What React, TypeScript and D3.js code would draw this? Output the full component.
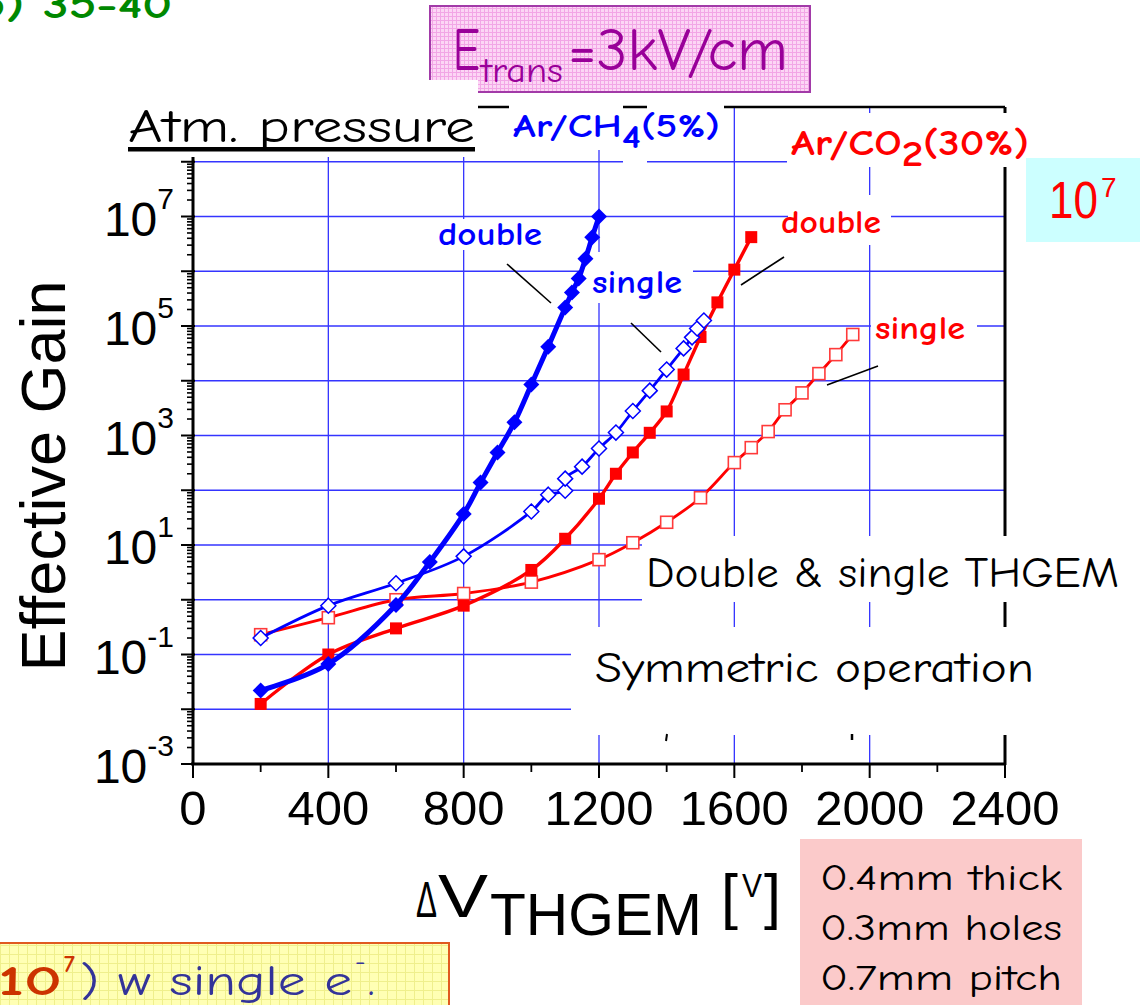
import React from 'react';
import * as d3 from 'd3';

// Applied voltage (V) and effective gain
const blueDoubleV = [200, 400, 600, 700, 800, 850, 900, 950, 1000, 1050, 1100, 1120, 1140, 1160, 1180, 1200];
const blueDoubleGain = [0.022, 0.067, 0.8, 4.9, 37, 138, 490, 1740, 8500, 42000, 218000, 410000, 740000, 1.7e6, 4.2e6, 1e7];

const blueSingleV = [200, 400, 600, 800, 1000, 1050, 1100, 1100, 1150, 1200, 1250, 1300, 1350, 1400, 1450, 1475, 1490, 1510];
const blueSingleGain = [0.2, 0.78, 2.0, 6.2, 41, 83, 98, 163, 270, 580, 1130, 2800, 6600, 16000, 39000, 62000, 90000, 126000];

const redDoubleV = [200, 400, 600, 800, 1000, 1100, 1200, 1250, 1300, 1350, 1400, 1450, 1500, 1550, 1600, 1650];
const redDoubleGain = [0.0125, 0.1, 0.3, 0.78, 3.5, 13, 70, 200, 490, 1120, 2750, 13000, 63000, 270000, 1.07e6, 4.2e6];

const redSingleV = [200, 400, 600, 800, 1000, 1200, 1300, 1400, 1500, 1600, 1650, 1700, 1750, 1800, 1850, 1900, 1950];
const redSingleGain = [0.23, 0.47, 1.0, 1.3, 2.1, 5.4, 11, 26, 73, 320, 600, 1180, 2950, 6000, 13500, 30000, 70000];

const xTickValues = [0, 400, 800, 1200, 1600, 2000, 2400];
const yLabelExponents = [-3, -1, 1, 3, 5, 7];

const COMIC = "'Comic Sans MS', 'Comic Neue', 'DejaVu Sans', sans-serif";
const ARIAL = "'Liberation Sans', Arial, Helvetica, sans-serif";
const BLUE = '#0000ff';
const RED = '#ff0000';
const GRID = '#3434ff';

type Pt = [number, number];
const zip = (v: number[], g: number[]): Pt[] => v.map((d, i) => [d, g[i]]);

export default function App() {
  const W = 1140;
  const H = 1005;

  const x = d3.scaleLinear().domain([0, 2400]).range([193, 1005]);
  const y = d3.scaleLog().domain([1e-3, 1e9]).range([764, 107]);

  const line = d3
    .line<Pt>()
    .x(d => x(d[0]))
    .y(d => y(d[1]))
    .curve(d3.curveCatmullRom.alpha(0.5));

  const redSingle = zip(redSingleV, redSingleGain);
  const redDouble = zip(redDoubleV, redDoubleGain);
  const blueSingle = zip(blueSingleV, blueSingleGain);
  const blueDouble = zip(blueDoubleV, blueDoubleGain);

  // log ticks
  const majors = d3.range(-3, 10).map(e => Math.pow(10, e));
  const minors: number[] = [];
  d3.range(-3, 9).forEach(e => {
    for (let m = 2; m <= 9; m++) minors.push(m * Math.pow(10, e));
  });
  const gridY = d3.range(-2, 9).map(e => Math.pow(10, e));
  const gridX = [400, 800, 1200, 1600, 2000];
  const xMinor = d3.range(200, 2400, 400);

  const diamond = (cx: number, cy: number, r: number) =>
    `M${cx},${cy - r}L${cx + r},${cy}L${cx},${cy + r}L${cx - r},${cy}Z`;

  // white label backgrounds that hide grid lines
  const masks: [number, number, number, number][] = [
    [120, 80, 358, 77],
    [509, 100, 114, 50],
    [623, 112, 24, 58],
    [647, 100, 77, 50],
    [787, 113, 243, 54],
    [436, 219, 108, 31],
    [583, 252, 110, 51],
    [788, 195, 103, 50],
    [871, 300, 106, 50],
    [642, 536, 498, 66],
    [571, 627, 569, 108],
  ];

  return (
    <div style={{ position: 'absolute', left: 0, top: 0, width: W, height: H, background: '#fff' }}>
      <svg width={W} height={H} style={{ display: 'block' }}>
        <defs>
          <pattern id="pinkGrid" width={4} height={4} patternUnits="userSpaceOnUse">
            <rect width={4} height={4} fill="#fcd6f5" />
            <path d="M0 0.5H4M0.5 0V4" stroke="#f2a6e6" strokeWidth={1} />
          </pattern>
          <pattern id="yellowGrid" width={9} height={9} patternUnits="userSpaceOnUse">
            <rect width={9} height={9} fill="#ffffb4" />
            <path d="M0 0.5H9M0.5 0V9" stroke="#efef8c" strokeWidth={1} />
          </pattern>
        </defs>

        {/* green heading remainder */}
        <text x={-22} y={18} fontFamily={COMIC} fontWeight="bold" fontSize={40} fill="#008800"
          textLength={194} lengthAdjust="spacingAndGlyphs">5) 35-40</text>

        {/* E_trans box */}
        <rect x={430} y={6} width={380} height={86} fill="url(#pinkGrid)" stroke="#a23aa8" strokeWidth={2} />
        <text x={453} y={70} fontFamily={COMIC} fontSize={60} fill="#990099" textLength={27} lengthAdjust="spacingAndGlyphs">E</text>
        <text x={481} y={82} fontFamily={COMIC} fontSize={34} fill="#990099" textLength={82} lengthAdjust="spacingAndGlyphs">trans</text>
        <text x={568} y={70} fontFamily={COMIC} fontSize={60} fill="#990099" textLength={220} lengthAdjust="spacingAndGlyphs">=3kV/cm</text>

        {/* grid */}
        {gridY.map(g => (
          <line key={'gy' + g} x1={193} x2={1005} y1={y(g)} y2={y(g)} stroke={GRID} strokeWidth={1.3} />
        ))}
        {gridX.map(v => (
          <line key={'gx' + v} x1={x(v)} x2={x(v)} y1={y(1e9)} y2={764} stroke={GRID} strokeWidth={1.3} />
        ))}

        {/* frame */}
        <line x1={193} x2={1005} y1={y(1e9)} y2={y(1e9)} stroke="#000" strokeWidth={2.5} />
        <line x1={1005} x2={1005} y1={y(1e9)} y2={765} stroke="#000" strokeWidth={3} />

        {/* y axis */}
        <line x1={193} x2={193} y1={y(1e9)} y2={765} stroke="#000" strokeWidth={3} />
        {majors.map(t => (
          <line key={'ym' + t} x1={181} x2={195} y1={y(t)} y2={y(t)} stroke="#000" strokeWidth={2} />
        ))}
        {minors.map(t => (
          <line key={'yn' + t} x1={187} x2={193} y1={y(t)} y2={y(t)} stroke="#000" strokeWidth={1.6} />
        ))}
        {yLabelExponents.map(e => (
          <text key={'yl' + e} x={174} y={y(Math.pow(10, e)) + 19} textAnchor="end" fontFamily={ARIAL} fontSize={48} fill="#000">
            10<tspan dy={-27} fontSize={30}>{e}</tspan>
          </text>
        ))}
        <text transform="translate(65,476) rotate(-90)" textAnchor="middle" fontFamily={ARIAL} fontSize={63} fill="#000">
          Effective Gain
        </text>

        {/* x axis */}
        <line x1={191} x2={1006} y1={764} y2={764} stroke="#000" strokeWidth={3} />
        {xTickValues.map(v => (
          <line key={'xt' + v} x1={x(v)} x2={x(v)} y1={764} y2={778} stroke="#000" strokeWidth={2} />
        ))}
        {xMinor.map(v => (
          <line key={'xn' + v} x1={x(v)} x2={x(v)} y1={764} y2={772} stroke="#000" strokeWidth={1.8} />
        ))}
        {xTickValues.map(v => (
          <text key={'xl' + v} x={x(v)} y={825} textAnchor="middle" fontFamily={ARIAL} fontSize={49} fill="#000">{v}</text>
        ))}

        {/* x axis title */}
        <text x={416} y={917} fontFamily={ARIAL} fontSize={50} fill="#000" textLength={21} lengthAdjust="spacingAndGlyphs">Δ</text>
        <text x={438} y={917} fontFamily={ARIAL} fontSize={61} fill="#000" textLength={50} lengthAdjust="spacingAndGlyphs">V</text>
        <text x={490} y={935} fontFamily={ARIAL} fontSize={60} fill="#000" textLength={212} lengthAdjust="spacingAndGlyphs">THGEM</text>
        <text x={721} y={917} fontFamily={ARIAL} fontSize={61} fill="#000">[</text>
        <text x={742} y={897} fontFamily={ARIAL} fontSize={33} fill="#000" textLength={20} lengthAdjust="spacingAndGlyphs">V</text>
        <text x={764} y={917} fontFamily={ARIAL} fontSize={61} fill="#000">]</text>

        {/* label backgrounds */}
        {masks.map((m, i) => (
          <rect key={'mk' + i} x={m[0]} y={m[1]} width={m[2]} height={m[3]} fill="#fff" />
        ))}
        <line x1={667} x2={666} y1={734} y2={741} stroke="#000" strokeWidth={2} />
        <line x1={852} x2={852} y1={734} y2={740} stroke="#000" strokeWidth={2.5} />

        {/* curves */}
        <path d={line(redSingle) || ''} fill="none" stroke={RED} strokeWidth={2.8} />
        <path d={line(redDouble) || ''} fill="none" stroke={RED} strokeWidth={3.4} />
        {redSingle.map((d, i) => (
          <rect key={'rs' + i} x={x(d[0]) - 6} y={y(d[1]) - 6} width={12} height={12} fill="#fff" stroke="#ff3a3a" strokeWidth={1.6} />
        ))}
        {redDouble.map((d, i) => (
          <rect key={'rd' + i} x={x(d[0]) - 6} y={y(d[1]) - 6} width={12} height={12} fill={RED} />
        ))}
        <path d={line(blueSingle) || ''} fill="none" stroke={BLUE} strokeWidth={2.8} />
        {blueSingle.map((d, i) => (
          <path key={'bs' + i} d={diamond(x(d[0]), y(d[1]), 7.5)} fill="#fff" stroke={BLUE} strokeWidth={1.5} />
        ))}
        <path d={line(blueDouble) || ''} fill="none" stroke={BLUE} strokeWidth={5} />
        {blueDouble.map((d, i) => (
          <path key={'bd' + i} d={diamond(x(d[0]), y(d[1]), 8)} fill={BLUE} />
        ))}

        {/* annotations */}
        <text x={128} y={142} fontFamily={COMIC} fontSize={46} fill="#000" textLength={347} lengthAdjust="spacingAndGlyphs">Atm. pressure</text>
        <rect x={128} y={147} width={347} height={4.5} fill="#000" />

        <text x={513} y={137} fontFamily={COMIC} fontWeight="bold" fontSize={33} fill={BLUE} textLength={207} lengthAdjust="spacingAndGlyphs">
          Ar/CH<tspan dy={11}>4</tspan><tspan dy={-11}>(5%)</tspan>
        </text>
        <text x={791} y={155} fontFamily={COMIC} fontWeight="bold" fontSize={36} fill={RED} textLength={238} lengthAdjust="spacingAndGlyphs">
          Ar/CO<tspan dy={11}>2</tspan><tspan dy={-11}>(30%)</tspan>
        </text>

        <text x={438} y={245} fontFamily={COMIC} fontWeight="bold" fontSize={32} fill={BLUE} textLength={104} lengthAdjust="spacingAndGlyphs">double</text>
        <text x={592} y={293} fontFamily={COMIC} fontWeight="bold" fontSize={32} fill={BLUE} textLength={90} lengthAdjust="spacingAndGlyphs">single</text>
        <text x={781} y={233} fontFamily={COMIC} fontWeight="bold" fontSize={32} fill={RED} textLength={100} lengthAdjust="spacingAndGlyphs">double</text>
        <text x={875} y={339} fontFamily={COMIC} fontWeight="bold" fontSize={32} fill={RED} textLength={90} lengthAdjust="spacingAndGlyphs">single</text>

        <line x1={507} y1={264} x2={551} y2={303} stroke="#000" strokeWidth={1.6} />
        <line x1={631} y1={323} x2={661} y2={352} stroke="#000" strokeWidth={1.6} />
        <line x1={741} y1={285} x2={784} y2={257} stroke="#000" strokeWidth={1.6} />
        <line x1={827} y1={385} x2={878} y2={366} stroke="#000" strokeWidth={1.6} />

        <text x={646} y={587} fontFamily={COMIC} fontSize={42} fill="#000" textLength={473} lengthAdjust="spacingAndGlyphs">Double &amp; single THGEM</text>
        <text x={595} y={682} fontFamily={COMIC} fontSize={42} fill="#000" textLength={439} lengthAdjust="spacingAndGlyphs">Symmetric operation</text>

        {/* 10^7 box */}
        <rect x={1026} y={158} width={114} height={84} fill="#ccffff" />
        <text x={1049} y={218} fontFamily={ARIAL} fontSize={52} fill={RED} textLength={49} lengthAdjust="spacingAndGlyphs">10</text>
        <text x={1101} y={197} fontFamily={ARIAL} fontSize={28} fill={RED}>7</text>

        {/* thgem geometry box */}
        <rect x={800} y={839} width={282} height={170} fill="#fbcaca" />
        <text x={820} y={890} fontFamily={COMIC} fontSize={37} fill="#000" textLength={242} lengthAdjust="spacingAndGlyphs">0.4mm thick</text>
        <text x={820} y={940} fontFamily={COMIC} fontSize={37} fill="#000" textLength={242} lengthAdjust="spacingAndGlyphs">0.3mm holes</text>
        <text x={820} y={990} fontFamily={COMIC} fontSize={37} fill="#000" textLength={242} lengthAdjust="spacingAndGlyphs">0.7mm pitch</text>

        {/* single electron note */}
        <rect x={-3} y={943} width={452} height={70} fill="url(#yellowGrid)" stroke="#e05a20" strokeWidth={2} />
        <text x={-2} y={995} fontFamily={COMIC} fontWeight="bold" fontSize={42} fill="#cc3300" textLength={64} lengthAdjust="spacingAndGlyphs">10</text>
        <text x={64} y={972} fontFamily={COMIC} fontWeight="bold" fontSize={24} fill="#cc3300">7</text>
        <text x={80} y={995} fontFamily={COMIC} fontSize={42} fill="#333399" textLength={272} lengthAdjust="spacingAndGlyphs">) w single e</text>
        <text x={355} y={970} fontFamily={COMIC} fontSize={26} fill="#333399">-</text>
        <text x={368} y={995} fontFamily={COMIC} fontSize={42} fill="#333399">.</text>
      </svg>
    </div>
  );
}
